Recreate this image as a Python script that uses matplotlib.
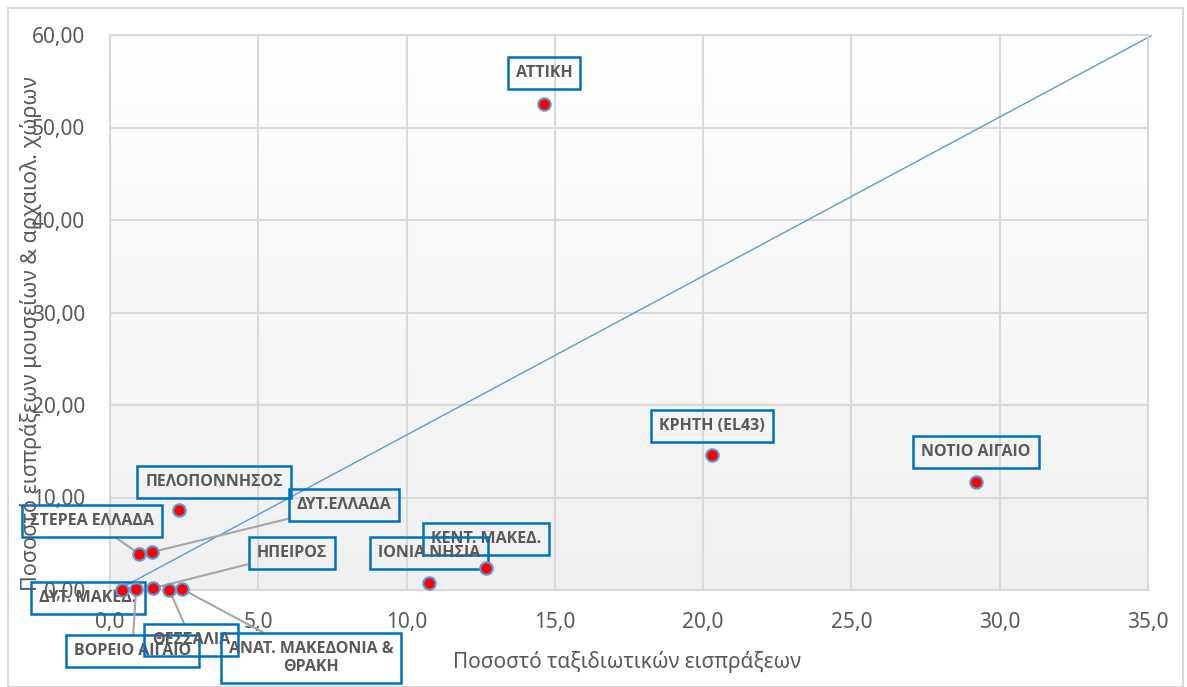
import numpy as np
import matplotlib.pyplot as plt
from matplotlib.colors import LinearSegmentedColormap
from matplotlib.patches import Rectangle

plt.rcParams['font.family'] = ['Noto Sans', 'DejaVu Sans']

# data
regions = ['ΑΤΤΙΚΗ', 'ΚΡΗΤΗ (EL43)', 'ΝΟΤΙΟ ΑΙΓΑΙΟ', 'ΚΕΝΤ. ΜΑΚΕΔ.', 'ΙΟΝΙΑ ΝΗΣΙΑ',
           'ΠΕΛΟΠΟΝΝΗΣΟΣ', 'ΣΤΕΡΕΑ ΕΛΛΑΔΑ', 'ΔΥΤ.ΕΛΛΑΔΑ', 'ΗΠΕΙΡΟΣ', 'ΔΥΤ. ΜΑΚΕΔ.',
           'ΒΟΡΕΙΟ ΑΙΓΑΙΟ', 'ΘΕΣΣΑΛΙΑ', 'ΑΝΑΤ. ΜΑΚΕΔΟΝΙΑ &\nΘΡΑΚΗ']
travel_pct = [14.63, 20.30, 29.20, 12.68, 10.75,
              2.33, 0.98, 1.42, 1.45, 0.40,
              0.88, 2.00, 2.43]
museum_pct = [52.5, 14.6, 11.7, 2.4, 0.76,
              8.65, 3.9, 4.1, 0.2, 0.05,
              0.1, 0.0, 0.1]
ref_line_x = [0.25, 35.1]
ref_line_y = [0.0, 59.9]

xticks = np.arange(0, 36, 5)
yticks = np.arange(0, 61, 10)

# label placement (offset in pixels from point) and whether a leader line is drawn
label_offsets = [(0, 31), (0, 29), (0, 30), (0, 29), (0, 30),
                 (35, 28), (-47, 33), (192, 47), (139, 35), (-34, -8),
                 (-4, -62), (22, -50), (129, -69)]
leaders = [False, False, False, False, False,
           False, True, True, True, False,
           True, True, True]

fig = plt.figure(figsize=(11.87, 6.87), dpi=100)
ax = fig.add_axes([110/1187, 1-590/687, (1148-110)/1187, (590-35)/687])

# outer chart border
fig.patches.append(Rectangle((8/1187, 0.0), 1175/1187, 1-8/687, transform=fig.transFigure,
                             fill=False, edgecolor='#d9d9d9', lw=1.5))

# gradient plot background
grad = np.linspace(0, 1, 256).reshape(-1, 1)
cmap = LinearSegmentedColormap.from_list('bg', ['#ffffff', '#f0f0f0'])
ax.imshow(grad, extent=[0, 1, 0, 1], transform=ax.transAxes, cmap=cmap,
          aspect='auto', zorder=0, origin='upper')

ax.set_xlim(0, 35)
ax.set_ylim(0, 60)
ax.set_xticks(xticks)
ax.set_yticks(yticks)
ax.set_xticklabels([f'{v:.1f}'.replace('.', ',') for v in xticks])
ax.set_yticklabels([f'{v:.2f}'.replace('.', ',') for v in yticks])
ax.tick_params(axis='y', length=0, pad=18, labelsize=15, labelcolor='#595959')
ax.tick_params(axis='x', length=0, pad=16, labelsize=15, labelcolor='#595959')
ax.grid(True, color='#d9d9d9', lw=1.5, zorder=1)
ax.set_axisbelow(True)
for s in ax.spines.values():
    s.set_color('#d9d9d9')
    s.set_linewidth(1.5)

ax.plot(ref_line_x, ref_line_y, color='#5b9bd5', lw=1, zorder=2, clip_on=False)

for name, x, y, off, lead in zip(regions, travel_pct, museum_pct, label_offsets, leaders):
    arrow = None
    if lead:
        arrow = dict(arrowstyle='-', color='#a6a6a6', lw=1.5, shrinkA=0, shrinkB=3)
    ax.annotate(name, xy=(x, y), xytext=off, textcoords='offset pixels',
                ha='center', va='center', fontsize=11.5, fontweight='bold', color='#595959',
                family=['Open Sans', 'DejaVu Sans'],
                multialignment='center', annotation_clip=False, zorder=4,
                bbox=dict(boxstyle='square,pad=0.5', fc='none', ec='#0070c0', lw=1.8),
                arrowprops=arrow)

ax.scatter(travel_pct, museum_pct, s=80, c='#ff0000', edgecolors='#5b9bd5',
           linewidths=1.5, zorder=5, clip_on=False)

fig.text(627/1187, 1-662/687, 'Ποσοστό ταξιδιωτικών εισπράξεων', ha='center', va='center',
         fontsize=15, color='#595959')
fig.text(31/1187, 1-334/687, 'Ποσοστό εισπράξεων μουσείων & αρχαιολ. χώρων', ha='center',
         va='center', rotation=90, fontsize=15.5, color='#595959')

fig.savefig('out.png', dpi=100)
